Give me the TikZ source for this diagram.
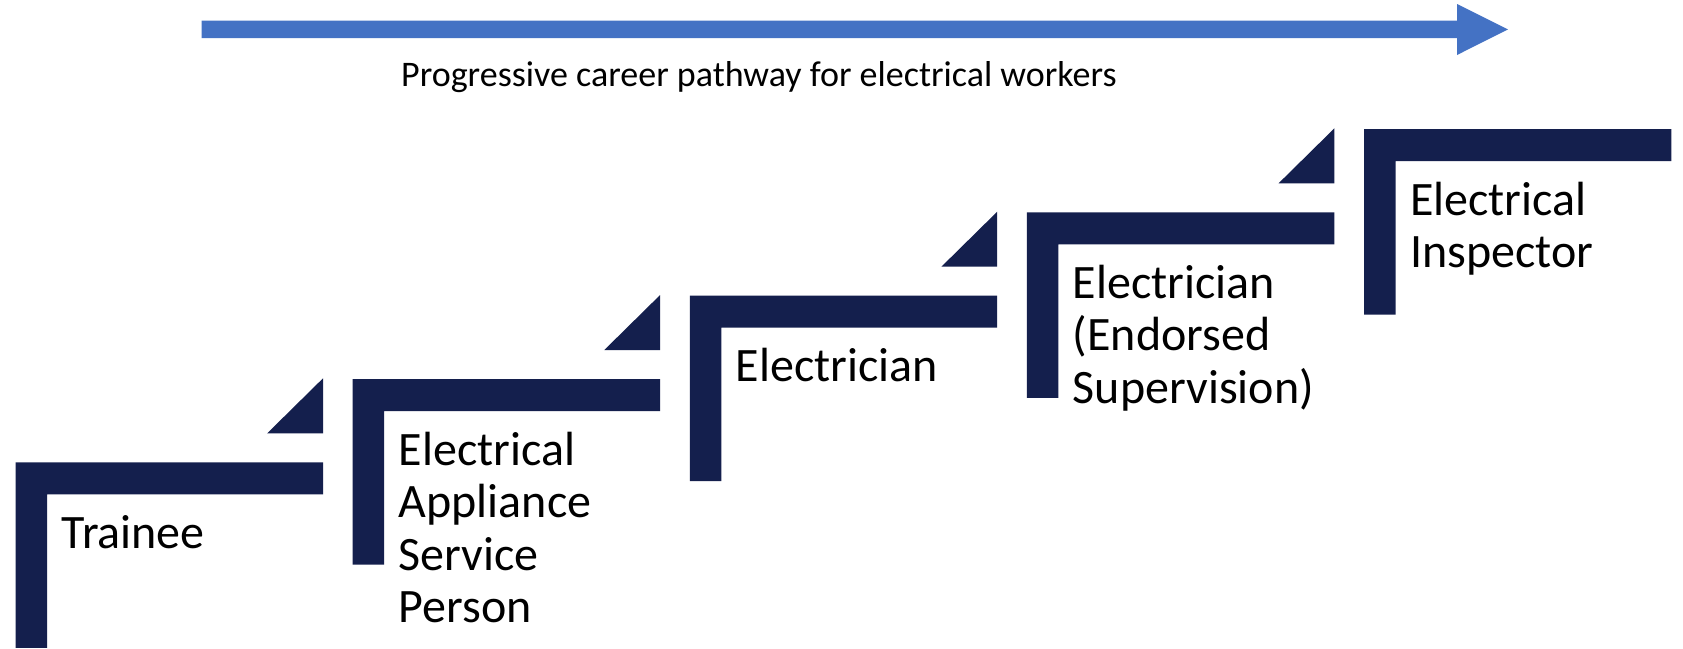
\documentclass[tikz,border=0pt]{standalone}
\usepackage{fontspec}
\setmainfont{Carlito}
\definecolor{navy}{RGB}{20,31,77}
\definecolor{arrowblue}{RGB}{68,114,196}
\newcommand\steplines[1]{\vtop{\halign{##\hfil\cr#1\crcr}}}
\begin{document}
\begin{tikzpicture}[x=1pt,y=-1pt,
  steptext/.style={anchor=base west,inner sep=0pt,outer sep=0pt,text=black,
    font=\fontsize{48}{52.5}\selectfont},
  titletext/.style={anchor=base west,inner sep=0pt,text=black,
    font=\fontsize{36}{40}\selectfont}]
\useasboundingbox[fill=white] (0,0) rectangle (1683,648);
% arrow
\fill[arrowblue] (201.5,20.7) -- (1457,20.7) -- (1457,4) -- (1508,29.4)
  -- (1457,55) -- (1457,38) -- (201.5,38) -- cycle;
\node[titletext] (title) at (401,86.7) {Progressive career pathway for electrical workers};
% L shapes and notches
\foreach \i in {0,...,4}{
  \pgfmathsetmacro\X{15.6+337.1*\i}
  \pgfmathsetmacro\Y{462.3-83.3*\i}
  \fill[navy] (\X,\Y) -- ++(307.4,0) -- ++(0,32) -- ++(-275.9,0) -- ++(0,153.5)
    -- ++(-31.5,0) -- cycle;
  \coordinate (in\i) at ({\X+46},{\Y+86});
}
\foreach \i in {0,...,3}{
  \pgfmathsetmacro\X{15.6+337.1*\i+307.4}
  \pgfmathsetmacro\Y{462.3-83.3*\i-29}
  \fill[navy] (\X,\Y) -- ++(-55.8,0) -- ++(55.8,-55) -- cycle;
}
\node[steptext] (s1) at (in0) {Trainee};
\node[steptext] (s2) at (in1) {\steplines{Electrical\cr Appliance\cr Service\cr Person}};
\node[steptext] (s3) at (in2) {Electrician};
\node[steptext] (s4) at (in3) {\steplines{Electrician\cr (Endorsed\cr Supervision)}};
\node[steptext] (s5) at (in4) {\steplines{Electrical\cr Inspector}};
\end{tikzpicture}
\end{document}
